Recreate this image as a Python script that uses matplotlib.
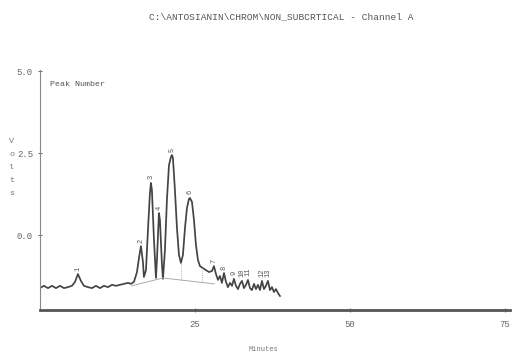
import matplotlib.pyplot as plt

# detector trace, channel A (minutes, volts)
minutes = [0.0, 0.65, 1.29, 1.94, 2.58, 3.23, 3.87, 4.52, 5.16, 5.65, 6.13, 6.61,
           7.10, 7.74, 8.39, 9.03, 9.68, 10.32, 10.97, 11.61, 12.26, 12.90, 13.55,
           14.19, 14.68, 15.16, 15.65, 15.97, 16.29, 16.61, 16.77, 17.10, 17.42,
           17.74, 17.90, 18.06, 18.39, 18.71, 18.87, 19.19, 19.35, 19.68, 19.84,
           20.16, 20.48, 20.81, 21.13, 21.29, 21.45, 21.77, 22.10, 22.42, 22.74,
           23.06, 23.39, 23.71, 24.03, 24.19, 24.52, 24.84, 25.16, 25.48, 25.81,
           26.29, 26.77, 27.26, 27.74, 28.06, 28.39, 28.71, 29.03, 29.35, 29.68,
           30.00, 30.32, 30.65, 30.97, 31.29, 31.61, 31.94, 32.26, 32.58, 32.90,
           33.23, 33.55, 33.87, 34.19, 34.52, 34.84, 35.16, 35.48, 35.81, 36.13,
           36.45, 36.77, 37.10, 37.42, 37.74, 38.06, 38.39, 38.71]
volts = [-1.62, -1.55, -1.62, -1.55, -1.62, -1.55, -1.62, -1.59, -1.55, -1.43, -1.19, -1.40,
         -1.55, -1.59, -1.62, -1.55, -1.62, -1.55, -1.59, -1.52, -1.55, -1.52, -1.49,
         -1.46, -1.49, -1.43, -1.13, -0.70, -0.34, -0.82, -1.28, -1.07, 0.15,
         1.28, 1.59, 1.37, -0.15, -1.31, -0.76, 0.67, 0.46, -0.91, -1.34,
         -0.46, 1.07, 2.13, 2.38, 2.44, 2.35, 1.37, 0.21, -0.61, -0.85,
         -0.61, 0.21, 0.82, 1.10, 1.13, 1.01, 0.46, -0.30, -0.76, -0.95,
         -1.01, -1.07, -1.13, -1.10, -0.95, -1.19, -1.37, -1.25, -1.46, -1.16,
         -1.43, -1.59, -1.46, -1.55, -1.34, -1.55, -1.65, -1.49, -1.40, -1.62,
         -1.52, -1.37, -1.62, -1.68, -1.49, -1.65, -1.52, -1.68, -1.40, -1.65,
         -1.55, -1.40, -1.68, -1.59, -1.74, -1.65, -1.77, -1.86]

# integration baseline and peak drop lines
base_t = [14.8, 19.84, 28.1]
base_v = [-1.55, -1.31, -1.49]
drop_t = [22.74, 26.1]
drop_lo = [-1.37, -1.44]
drop_hi = [-0.85, -0.98]

# peak numbers with retention times and apex heights
peak_num = ["1", "2", "3", "4", "5", "6", "7", "8", "9", "10", "11", "12", "13"]
peak_t = [6.13, 16.29, 17.90, 19.19, 21.29, 24.19, 28.06, 29.68, 31.29, 32.58, 33.55, 35.81, 36.77]
peak_v = [-1.19, -0.34, 1.59, 0.67, 2.44, 1.13, -0.95, -1.16, -1.34, -1.40, -1.37, -1.40, -1.40]

x_ticks = [25, 50, 75]
y_ticks = [0.0, 2.5, 5.0]

mono = "Liberation Mono"
fig = plt.figure(figsize=(5.12, 3.56), dpi=100)
ax = fig.add_axes([0.078, 0.129, 0.918, 0.674])

ax.plot(minutes, volts, color="#444444", lw=1.25)
ax.plot(base_t, base_v, color="#aaaaaa", lw=0.7)
ax.vlines(drop_t, drop_lo, drop_hi, colors="#999999", lw=0.6, linestyles=":")

for n, t, v in zip(peak_num, peak_t, peak_v):
    ax.annotate(n, (t, v), xytext=(0, 2.5), textcoords="offset points",
                rotation=90, ha="center", va="bottom", fontsize=5,
                family=mono, color="#555555")

ax.set_xlim(0, 75.8)
ax.set_ylim(-2.29, 5.03)
ax.set_xticks(x_ticks)
ax.set_xticklabels([str(t) for t in x_ticks])
ax.set_yticks(y_ticks)
ax.set_yticklabels([f"{t:.1f}" for t in y_ticks])
ax.tick_params(axis="both", labelsize=6.5, colors="#666666", direction="inout", length=3, width=0.7)
ax.tick_params(axis="x", pad=6)
for lbl in ax.get_xticklabels() + ax.get_yticklabels():
    lbl.set_family(mono)

for side in ("top", "right"):
    ax.spines[side].set_visible(False)
ax.spines["left"].set_color("#888888")
ax.spines["left"].set_linewidth(0.8)
ax.spines["bottom"].set_color("#555555")
ax.spines["bottom"].set_linewidth(2.0)

fig.text(0.549, 0.952, r"C:\ANTOSIANIN\CHROM\NON_SUBCRTICAL - Channel A",
         ha="center", va="center", fontsize=6.8, family=mono, color="#555555")
fig.text(0.098, 0.764, "Peak Number", ha="left", va="center",
         fontsize=6, family=mono, color="#555555")
fig.text(0.023, 0.53, "V\no\nl\nt\ns", ha="center", va="center",
         fontsize=6, family=mono, color="#777777", linespacing=2.2)
fig.text(0.514, 0.017, "Minutes", ha="center", va="center",
         fontsize=5, family=mono, color="#777777")

fig.savefig("out.png")
